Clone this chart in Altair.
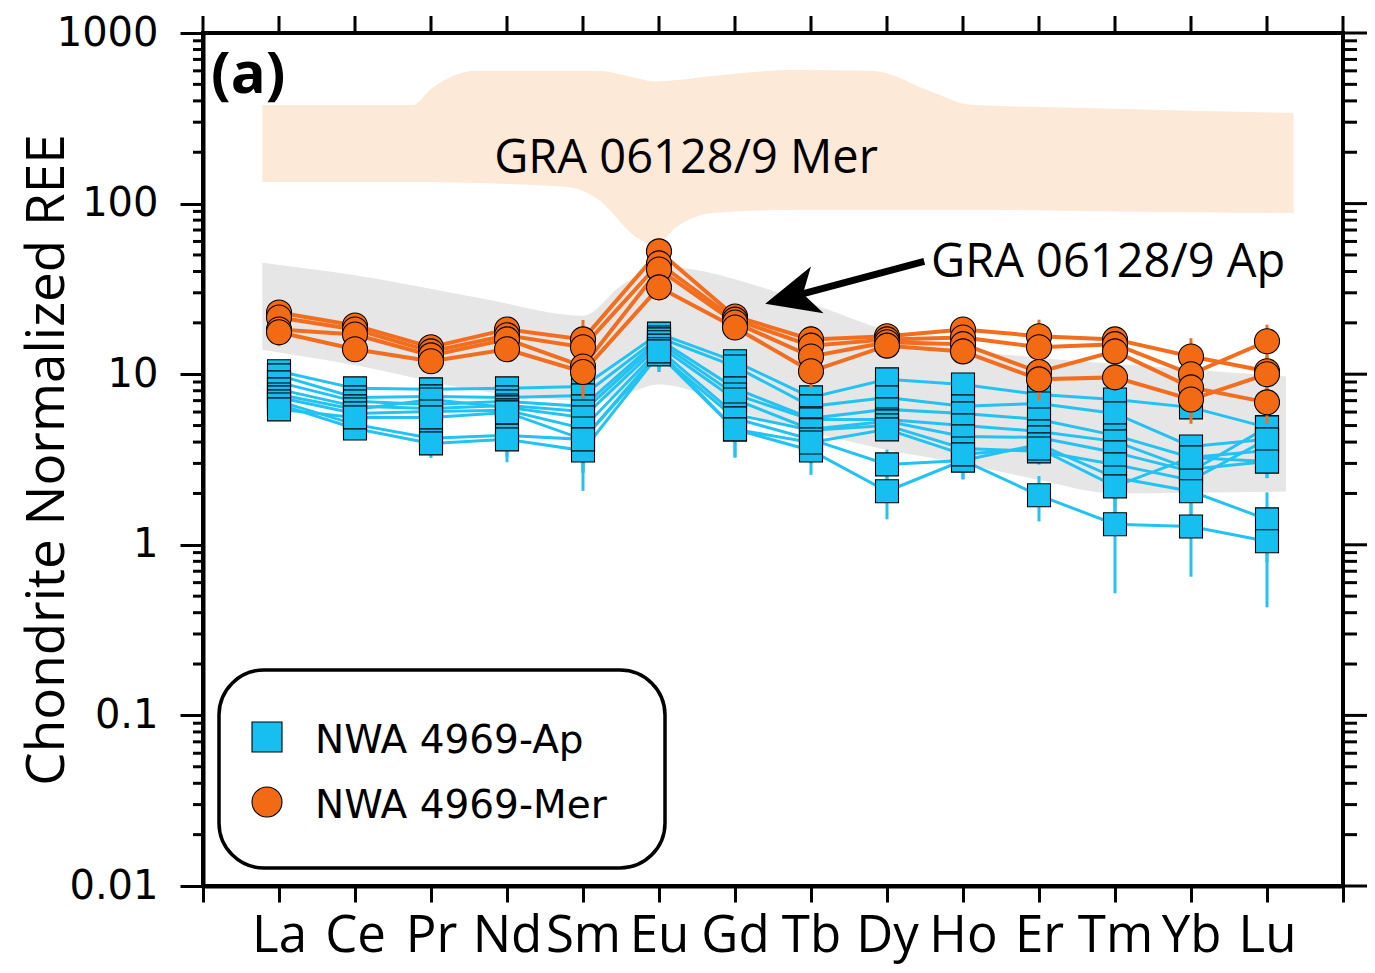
import altair as alt
import pandas as pd

# ---------------- data ----------------
elements = ["La", "Ce", "Pr", "Nd", "Sm", "Eu", "Gd", "Tb", "Dy", "Ho", "Er", "Tm", "Yb", "Lu"]

# NWA 4969 apatite analyses (chondrite normalized)
ap_1 = [10.4, 8.26, 8.15, 8.26, 8.48, 17.3, 11.9, 7.31, 9.33, 8.71, 7.61, 7.11, 6.39, 4.88]
ap_2 = [9.84, 7.31, 7.41, 7.31, 7.51, 16.4, 11.1, 6.48, 7.31, 6.48, 6.74, 5.89, 3.77, 4.15]
ap_3 = [8.95, 6.93, 6.65, 6.93, 6.48, 16.0, 8.26, 5.51, 6.22, 5.89, 5.43, 4.38, 3.25, 3.57]
ap_4 = [8.15, 6.48, 6.30, 6.56, 6.05, 15.4, 7.61, 5.43, 5.43, 5.01, 4.62, 4.04, 2.77, 3.08]
ap_5 = [7.61, 6.22, 7.11, 6.39, 5.58, 14.7, 7.11, 4.75, 5.29, 4.32, 4.26, 3.48, 2.69, 4.88]
ap_6 = [7.31, 5.89, 6.05, 6.14, 4.81, 14.0, 5.81, 4.69, 5.01, 3.67, 3.53, 2.96, 2.39, 4.15]
ap_7 = [6.93, 5.08, 4.21, 4.38, 4.15, 13.1, 5.51, 4.15, 2.96, 3.12, 3.88, 2.48, 2.06, 1.41]
ap_8 = [6.65, 4.81, 3.93, 4.15, 3.57, 13.1, 4.75, 3.57, 2.06, 3.12, 1.95, 1.32, 1.28, 1.05]
ap_9 = [6.22, 5.58, 5.58, 5.97, 4.15, 13.6, 4.75, 3.98, 4.75, 3.39, 3.67, 2.20, 3.25, 3.08]
ap_err = [0.6, 0.5, 0.7, 1.1, 1.5, 2.8, 1.5, 1.0, 0.65, 0.7, 0.58, 0.8, 0.63, 0.62]

# NWA 4969 merrillite analyses
mer_1 = [23.0, 19.3, 14.4, 18.3, 16.0, 52.5, 21.8, 16.0, 16.7, 18.3, 16.7, 16.0, 12.7, 10.4]
mer_2 = [21.5, 18.3, 13.6, 16.9, 14.4, 44.6, 20.9, 14.7, 16.0, 16.4, 14.4, 15.0, 10.0, 15.6]
mer_3 = [18.3, 17.1, 12.9, 16.0, 11.1, 41.1, 20.1, 12.7, 15.4, 15.0, 10.3, 13.6, 8.37, 6.84]
mer_4 = [17.6, 14.0, 11.9, 14.0, 10.3, 32.3, 18.8, 10.4, 14.7, 13.6, 9.33, 9.58, 7.11, 10.0]
# relative 1-sigma errors of the merrillite analyses
mer_err_rel = [0.17, 0.12, 0.12, 0.12, 0.30, 0.12, 0.12, 0.20, 0.12, 0.12, 0.25, 0.12, 0.28, 0.25]

# GRA 06128/9 merrillite field (position along the REE axis, upper, lower)
mer_band_x = [0.78, 2.0, 2.76, 3.0, 3.6, 4.8, 5.17, 5.74, 5.94, 6.23, 6.7, 7.8, 8.8, 9.6, 10.1, 12.0, 14.35]
mer_band_hi = [378, 378, 378, 470, 600, 600, 600, 540, 520, 530, 560, 607, 600, 450, 380, 360, 340]
mer_band_lo = [134, 134, 134, 134, 132, 125, 108, 62, 57, 73, 88, 92, 92, 92, 92, 90, 88]

# GRA 06128/9 apatite field
ap_band_x = [0.78, 2.0, 3.64, 5.0, 5.5, 6.0, 6.6, 7.0, 8.0, 9.0, 10.0, 11.0, 12.0, 14.25]
ap_band_hi = [45, 38, 28, 22, 33, 43, 40, 36, 26, 18, 14, 12.5, 11.5, 9.7]
ap_band_lo = [13.9, 11.3, 8.0, 7.0, 7.5, 8.7, 7.5, 6.2, 4.6, 3.6, 3.0, 2.4, 2.0, 2.05]

major_ticks = [0.01, 0.1, 1, 10, 100, 1000]
minor_mult = [2, 3, 4, 5, 6, 7, 8, 9]
legend_labels = ["NWA 4969-Ap", "NWA 4969-Mer"]
band_labels = ["GRA 06128/9 Mer", "GRA 06128/9 Ap"]
# arrow: tail (near label) -> head (pointing at the apatite field)
arrow_tail = (9.49, 45.9)
arrow_head = (7.74, 28.4)

# ---------------- tables ----------------
ap_rows = []
for s, vals in enumerate([ap_1, ap_2, ap_3, ap_4, ap_5, ap_6, ap_7, ap_8, ap_9]):
    for i, (e, v) in enumerate(zip(elements, vals)):
        ap_rows.append({"series": f"ap{s}", "idx": i + 1, "elem": e, "value": v,
                        "lo": max(v - ap_err[i], 0.02), "hi": v + ap_err[i]})
ap_df = pd.DataFrame(ap_rows)

mer_rows = []
for s, vals in enumerate([mer_1, mer_2, mer_3, mer_4]):
    for i, (e, v) in enumerate(zip(elements, vals)):
        mer_rows.append({"series": f"mer{s}", "idx": i + 1, "elem": e, "value": v,
                         "lo": v * (1 - mer_err_rel[i]), "hi": v * (1 + mer_err_rel[i])})
mer_df = pd.DataFrame(mer_rows)

mer_band = pd.DataFrame({"bx": mer_band_x, "hi": mer_band_hi, "lo": mer_band_lo})
ap_band = pd.DataFrame({"bx": ap_band_x, "hi": ap_band_hi, "lo": ap_band_lo})
minor_df = pd.DataFrame({"val": [m * 10.0 ** k for k in range(-2, 3) for m in minor_mult]})
major_df = pd.DataFrame({"val": major_ticks})
top_df = pd.DataFrame({"idx": list(range(16))})
arrow_df = pd.DataFrame({"x0": [arrow_tail[0]], "y0": [arrow_tail[1]],
                         "x1": [arrow_head[0]], "y1": [arrow_head[1]]})
one = pd.DataFrame({"k": [0]})

# ---------------- scales / axes ----------------
BLUE = "#16BFF0"
BLUE_LINE = "#22C3F3"
ORANGE = "#F36A14"
ORANGE_LINE = "#F26E1E"

xscale = alt.Scale(domain=[0, 15], nice=False, zero=False)
yscale = alt.Scale(type="log", domain=[0.01, 1000], nice=False)
label_js = "[" + ",".join("'" + e + "'" for e in [""] + elements + [""]) + "]"
xaxis = alt.Axis(values=list(range(16)), labelExpr=label_js + "[datum.value]", title=None,
                 tickSize=16, labelFont="Open Sans", labelFontSize=51,
                 labelBaseline="alphabetic", labelPadding=49, labelFlush=False,
                 labelOverlap=False)
yaxis = alt.Axis(values=major_ticks, format=".2~f", title="Chondrite Normalized REE",
                 titleFont="Open Sans", titleFontSize=53, titleFontWeight="normal",
                 titleX=-140, titleY=426.5, titleAngle=270, titleAlign="center",
                 titleBaseline="alphabetic", tickSize=23, labelFont="DejaVu Sans",
                 labelFontSize=40, labelPadding=22, labelFlush=False, labelOverlap=False)


def X(f):
    return alt.X(f, type="quantitative", scale=xscale, axis=xaxis)


def Y(f):
    return alt.Y(f, type="quantitative", scale=yscale, axis=yaxis)


# ---------------- layers ----------------
mer_area = alt.Chart(mer_band).mark_area(color="#FDE9D8", interpolate="monotone").encode(
    x=X("bx"), y=Y("hi"), y2="lo")
ap_area = alt.Chart(ap_band).mark_area(color="#E6E6E6", interpolate="monotone").encode(
    x=X("bx"), y=Y("hi"), y2="lo")

ap_lines = alt.Chart(ap_df).mark_line(color=BLUE_LINE, strokeWidth=3).encode(
    x=X("idx"), y=Y("value"), detail="series:N", order="idx:Q")
ap_bars = alt.Chart(ap_df).mark_rule(color=BLUE_LINE, strokeWidth=3).encode(
    x=X("idx"), y=Y("lo"), y2="hi")
ap_pts = alt.Chart(ap_df).mark_point(shape="square", filled=True, fill=BLUE, stroke="black",
                                     strokeWidth=1.1, size=529, opacity=1).encode(
    x=X("idx"), y=Y("value"))

mer_lines = alt.Chart(mer_df).mark_line(color=ORANGE_LINE, strokeWidth=4).encode(
    x=X("idx"), y=Y("value"), detail="series:N", order="idx:Q")
mer_bars = alt.Chart(mer_df).mark_rule(color=ORANGE_LINE, strokeWidth=3).encode(
    x=X("idx"), y=Y("lo"), y2="hi")
mer_pts = alt.Chart(mer_df).mark_point(shape="circle", filled=True, fill=ORANGE, stroke="black",
                                       strokeWidth=1.1, size=625, opacity=1).encode(
    x=X("idx"), y=Y("value"))

left_minor = alt.Chart(minor_df).mark_rule(color="black", strokeWidth=3).encode(
    y=Y("val"), x=alt.value(-10), x2=alt.value(0))
right_minor = alt.Chart(minor_df).mark_rule(color="black", strokeWidth=3).encode(
    y=Y("val"), x=alt.value(1140), x2=alt.value(1154))
right_major = alt.Chart(major_df).mark_rule(color="black", strokeWidth=3).encode(
    y=Y("val"), x=alt.value(1140), x2=alt.value(1166))
top_ticks = alt.Chart(top_df).mark_rule(color="black", strokeWidth=3).encode(
    x=X("idx"), y=alt.value(0), y2=alt.value(-17))

arrow_shaft = alt.Chart(arrow_df).mark_rule(color="black", strokeWidth=7).encode(
    x=X("x0"), y=Y("y0"), x2="x1", y2="y1")
arrow_tip = alt.Chart(arrow_df).mark_point(
    shape="M -1 0 L 1 -0.9 L 0.45 0 L 1 0.9 Z", filled=True, color="black",
    size=2900, angle=345, opacity=1).encode(x=X("x1"), y=Y("y1"))

mer_text = alt.Chart(one).mark_text(font="Open Sans", fontSize=47, align="center",
                                    baseline="alphabetic", color="black").encode(
    x=alt.value(483), y=alt.value(140), text=alt.value(band_labels[0]))
ap_text = alt.Chart(one).mark_text(font="Open Sans", fontSize=47, align="left",
                                   baseline="alphabetic", color="black").encode(
    x=alt.value(728), y=alt.value(244), text=alt.value(band_labels[1]))
panel = alt.Chart(one).mark_text(font="Open Sans", fontSize=58, fontWeight="bold",
                                 align="left", baseline="alphabetic", color="black").encode(
    x=alt.value(8), y=alt.value(60), text=alt.value("(a)"))

leg_box = alt.Chart(one).mark_rect(cornerRadius=45, fill="white", stroke="black",
                                   strokeWidth=3.5).encode(
    x=alt.value(16), x2=alt.value(462), y=alt.value(637), y2=alt.value(835))
leg_sq = alt.Chart(one).mark_point(shape="square", filled=True, fill=BLUE, stroke="black",
                                   strokeWidth=1.1, size=900, opacity=1).encode(
    x=alt.value(64), y=alt.value(704))
leg_ci = alt.Chart(one).mark_point(shape="circle", filled=True, fill=ORANGE, stroke="black",
                                   strokeWidth=1.1, size=900, opacity=1).encode(
    x=alt.value(64), y=alt.value(769))
leg_t1 = alt.Chart(one).mark_text(font="DejaVu Sans", fontSize=39, align="left",
                                  baseline="alphabetic", color="black").encode(
    x=alt.value(112), y=alt.value(720), text=alt.value(legend_labels[0]))
leg_t2 = alt.Chart(one).mark_text(font="DejaVu Sans", fontSize=39, align="left",
                                  baseline="alphabetic", color="black").encode(
    x=alt.value(112), y=alt.value(785), text=alt.value(legend_labels[1]))

chart = alt.layer(
    mer_area, ap_area, ap_lines, ap_bars, ap_pts, mer_lines, mer_bars, mer_pts,
    left_minor, right_minor, right_major, top_ticks, arrow_shaft, arrow_tip,
    mer_text, ap_text, panel, leg_box, leg_sq, leg_ci, leg_t1, leg_t2
).properties(
    width=1140, height=853,
    autosize=alt.AutoSizeParams(type="none"),
    padding={"left": 195, "top": 25, "right": 24, "bottom": 79},
    background="white",
).configure_view(
    stroke="black", strokeWidth=4
).configure_axis(
    domainColor="black", domainWidth=4, tickColor="black", tickWidth=3, grid=False,
    labelColor="black", titleColor="black"
)

chart.save("out.html", embed_options={"renderer": "svg", "actions": False})
